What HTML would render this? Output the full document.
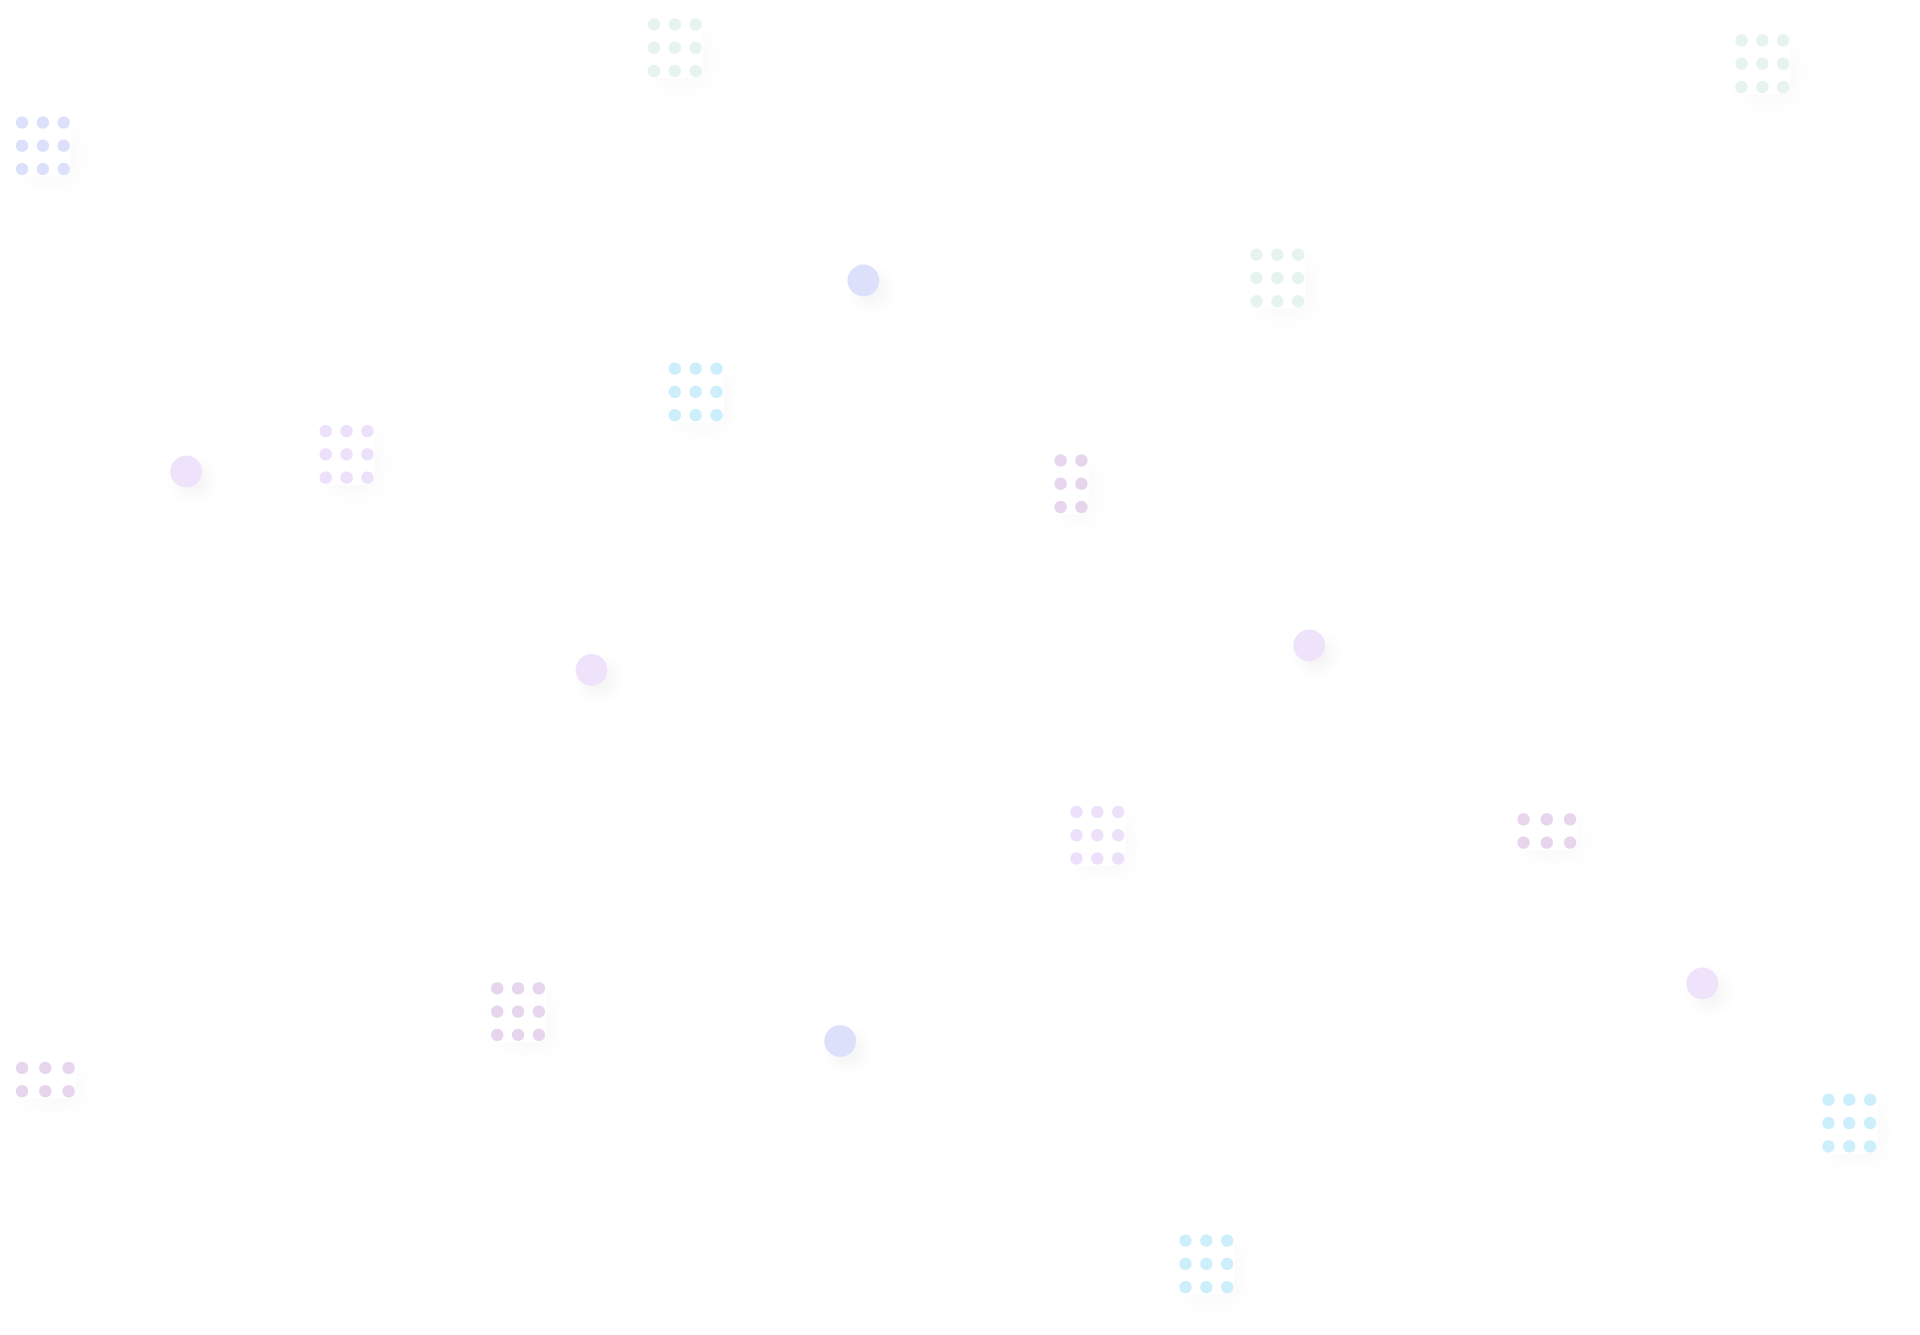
<!DOCTYPE html>
<html><head><meta charset="utf-8"><style>
html,body{margin:0;padding:0;background:#fff;width:1920px;height:1335px;overflow:hidden}
#s{position:absolute;left:0;top:0;width:1568px;height:1090px;transform:scale(1.2247);transform-origin:0 0}
.d{position:absolute;width:9.6px;height:9.6px;border-radius:50%;margin:-4.8px 0 0 -4.8px}
.c{position:absolute;width:26px;height:26px;border-radius:50%;margin:-13px 0 0 -13px;box-shadow:6px 7px 14px rgba(0,0,0,0.05)}
.g{position:absolute;border-radius:12px;box-shadow:6px 8px 16px rgba(0,0,0,0.025)}
</style></head><body><div id="s">
<script>
var G=[[534,20,3,3,'#e6f3ee',17],[1422,33,3,3,'#e6f3ee',17],[18,100,3,3,'#dde0fb',17],[1026,208,3,3,'#e6f3ee',17],[551,301,3,3,'#cdeffc',17],[266,352,3,3,'#ece0fb',17],[866,376,2,3,'#e6d5ec',17],[879,663,3,3,'#ece0fb',17],[1244,669,3,2,'#e6d5ec',19],[406,807,3,3,'#e6d5ec',17],[18,872,3,2,'#e6d5ec',19],[1493,898,3,3,'#cdeffc',17],[968,1013,3,3,'#cdeffc',17]];
var C=[[705,229,'#dde0fb'],[152,385,'#efe2fb'],[483,547,'#efe2fb'],[1069,527,'#efe2fb'],[686,850,'#dde0fb'],[1390,803,'#efe2fb']];
var h='';
G.forEach(function(g){var sx=g[5];h+='<div class="g" style="left:'+(g[0]-6)+'px;top:'+(g[1]-6)+'px;width:'+((g[2]-1)*sx+12)+'px;height:'+((g[3]-1)*19+12)+'px"></div>';
for(var r=0;r<g[3];r++)for(var c=0;c<g[2];c++)h+='<div class="d" style="left:'+(g[0]+c*sx)+'px;top:'+(g[1]+r*19)+'px;background:'+g[4]+'"></div>';});
C.forEach(function(c){h+='<div class="c" style="left:'+c[0]+'px;top:'+c[1]+'px;background:'+c[2]+'"></div>';});
document.getElementById('s').innerHTML=h;
</script>
</div></body></html>
